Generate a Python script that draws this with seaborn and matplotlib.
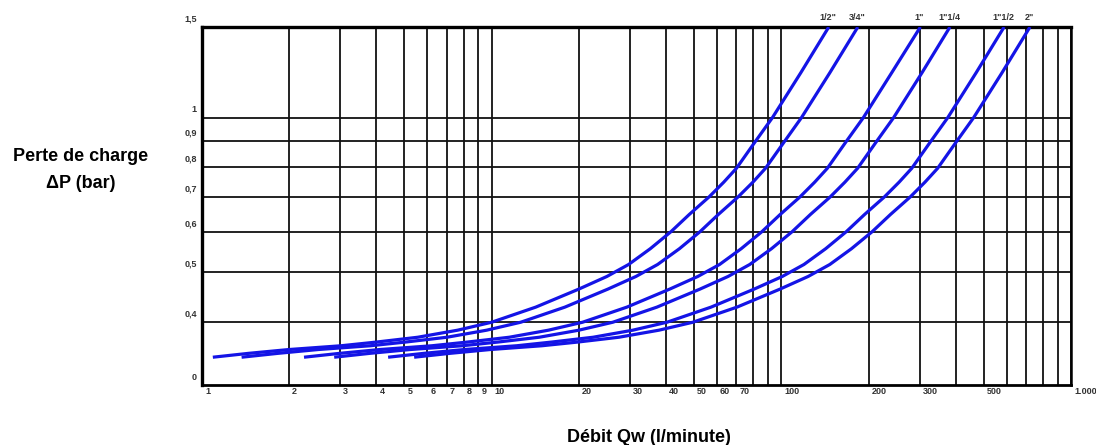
import numpy as np
import pandas as pd
import matplotlib
matplotlib.use("Agg")
import matplotlib.pyplot as plt
import seaborn as sns
from matplotlib.ticker import FixedLocator, NullLocator, NullFormatter

# ---------------- data ----------------
sizes = ['1/2"', '3/4"', '1"', '1"1/4', '1"1/2', '2"']

# pressure drop values (bar) at which the flows below were read
dp = [0.342, 0.348, 0.354, 0.360, 0.366, 0.374, 0.386, 0.400, 0.428, 0.464, 0.491,
      0.518, 0.556, 0.600, 0.648, 0.701, 0.749, 0.797, 0.892, 1.000, 1.222, 1.500]

# flow (l/minute) of each pipe size at those pressure drops
q_half = [1.09, 1.45, 2.0, 3.02, 4.0, 5.56, 7.63, 10.0, 14.2, 20.0, 25.0,
          29.7, 35.3, 41.6, 48.1, 56.3, 63.3, 70.0, 80.6, 93.2, 116.7, 145.8]
q_three_quarter = [1.37, 1.83, 2.52, 3.81, 5.04, 7.01, 9.61, 12.6, 17.9, 25.2, 31.5,
                   37.4, 44.5, 52.4, 60.6, 70.9, 79.8, 88.2, 101.6, 117.4, 147.0, 183.7]
q_one = [2.25, 2.99, 4.12, 6.22, 8.24, 11.5, 15.7, 20.6, 29.3, 41.2, 51.5,
         61.2, 72.7, 85.7, 99.1, 116.0, 130.4, 144.2, 166.0, 192.0, 240.4, 302.0]
q_one_quarter = [2.86, 3.80, 5.24, 7.91, 10.5, 14.6, 20.0, 26.2, 37.2, 52.4, 65.5,
                 77.8, 92.5, 109.0, 126.0, 147.5, 165.8, 183.4, 211.2, 244.2, 305.8, 382.0]
q_one_half = [4.39, 5.84, 8.06, 12.2, 16.1, 22.4, 30.7, 40.3, 57.2, 80.6, 100.8,
              119.7, 142.3, 167.6, 193.8, 226.9, 255.1, 282.1, 324.8, 375.6, 470.3, 587.6]
q_two = [5.40, 7.18, 9.90, 14.9, 19.8, 27.5, 37.8, 49.5, 70.3, 99.0, 123.8,
         147.0, 174.7, 205.9, 238.1, 278.7, 313.3, 346.5, 399.0, 461.3, 577.7, 721.7]

flows = [q_half, q_three_quarter, q_one, q_one_quarter, q_one_half, q_two]

x_grid = [1, 2, 3, 4, 5, 6, 7, 8, 9,
          10, 20, 30, 40, 50, 60, 70, 80, 90,
          100, 200, 300, 400, 500, 600, 700, 800, 900, 1000]
x_tick_vals = [1, 2, 3, 4, 5, 6, 7, 8, 9, 10, 20, 30, 40, 50, 60, 70,
               100, 200, 300, 500, 1000]
x_tick_labels = ['1', '2', '3', '4', '5', '6', '7', '8', '9', '10', '20', '30',
                 '40', '50', '60', '70', '100', '200', '300', '500', '1.000']

y_min, y_max = 0.302, 1.5
y_grid = [0.4, 0.5, 0.6, 0.7, 0.8, 0.9, 1.0, 1.5]
y_tick_vals = [y_min, 0.4, 0.5, 0.6, 0.7, 0.8, 0.9, 1.0, 1.5]
y_tick_labels = ['0', '0,4', '0,5', '0,6', '0,7', '0,8', '0,9', '1', '1,5']

rows = []
for s, q in zip(sizes, flows):
    for xv, yv in zip(q, dp):
        rows.append({"size": s, "Q": xv, "dP": yv})
df = pd.DataFrame(rows)

# ---------------- style ----------------
sns.set_theme(style="white")
plt.rcParams["font.family"] = ["Liberation Sans", "DejaVu Sans"]

W, H = 1096, 445
fig = plt.figure(figsize=(W / 100, H / 100), dpi=100)
L, R, T, B = 202, 1071, 27, 385
ax = fig.add_axes([L / W, 1 - B / H, (R - L) / W, (B - T) / H])

blue = "#1414E6"
sns.lineplot(data=df, x="Q", y="dP", hue="size", hue_order=sizes,
             palette=[blue] * len(sizes), estimator=None, sort=True,
             linewidth=2.3, legend=False, ax=ax, zorder=5)
for ln in ax.get_lines():
    ln.set_solid_joinstyle("round")
    ln.set_solid_capstyle("butt")

ax.set_xscale("log")
ax.set_yscale("log")
ax.set_xlim(1, 1000)
ax.set_ylim(y_min, y_max)

ax.xaxis.set_major_locator(FixedLocator(x_grid))
ax.xaxis.set_minor_locator(NullLocator())
ax.xaxis.set_major_formatter(NullFormatter())
ax.xaxis.set_minor_formatter(NullFormatter())
ax.yaxis.set_major_locator(FixedLocator(y_grid))
ax.yaxis.set_minor_locator(NullLocator())
ax.yaxis.set_major_formatter(NullFormatter())
ax.yaxis.set_minor_formatter(NullFormatter())
ax.tick_params(length=0)
ax.grid(True, color="#111111", linewidth=1.3)
ax.set_xlabel("")
ax.set_ylabel("")

for side, lw in [("top", 2.4), ("left", 2.4), ("bottom", 2.0), ("right", 1.8)]:
    ax.spines[side].set_visible(True)
    ax.spines[side].set_color("black")
    ax.spines[side].set_linewidth(lw)

tick_color = "#333333"
for xv, lab in zip(x_tick_vals, x_tick_labels):
    ax.annotate(lab, xy=(xv, 0), xycoords=("data", "axes fraction"),
                xytext=(3, -7), textcoords="offset pixels",
                ha="left", va="center", fontsize=6.5, color=tick_color,
                fontweight="bold")
for yv, lab in zip(y_tick_vals, y_tick_labels):
    ax.annotate(lab, xy=(0, yv), xycoords=("axes fraction", "data"),
                xytext=(-5, 8), textcoords="offset pixels",
                ha="right", va="center", fontsize=6.5, color=tick_color,
                fontweight="bold")

for s, q in zip(sizes, flows):
    ax.annotate(s, xy=(q[-1], y_max), xycoords="data",
                xytext=(-1, 9), textcoords="offset pixels",
                ha="center", va="center", fontsize=6.5, color=tick_color,
                fontweight="bold")

fig.text(81 / W, 1 - 157 / H, "Perte de charge", ha="center", va="center",
         fontsize=13, fontweight="bold", color="black")
fig.text(81 / W, 1 - 183 / H, "ΔP (bar)", ha="center", va="center",
         fontsize=13, fontweight="bold", color="black")
fig.text(649 / W, 1 - 437 / H, "Débit Qw (l/minute)", ha="center", va="center",
         fontsize=13, fontweight="bold", color="black")

fig.savefig("out.png", dpi=100)
